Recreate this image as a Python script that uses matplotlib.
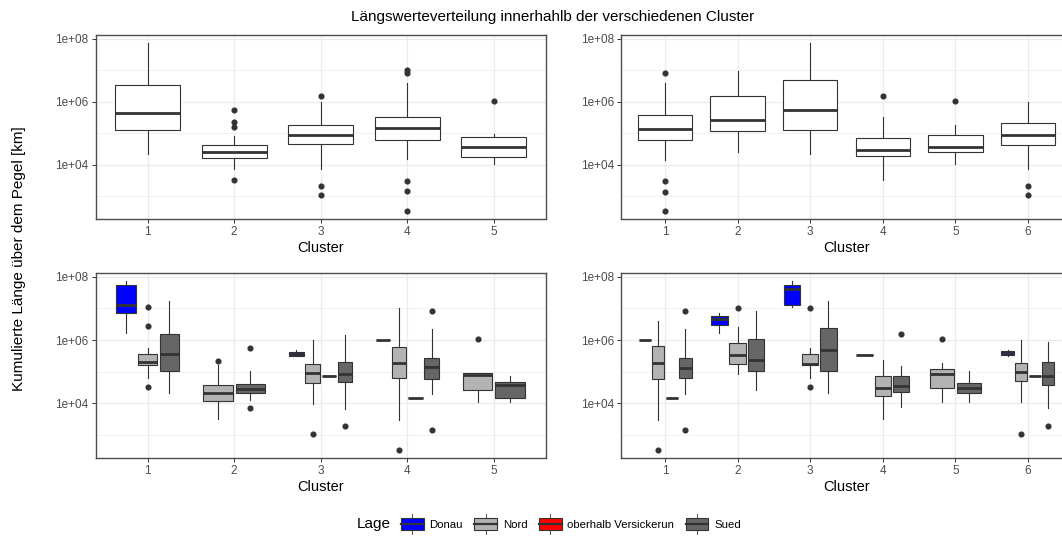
import numpy as np
import matplotlib
matplotlib.use("Agg")
import matplotlib.pyplot as plt
from matplotlib.patches import Patch, Rectangle
from matplotlib.lines import Line2D
from matplotlib.legend_handler import HandlerBase
from matplotlib.ticker import FixedLocator, NullFormatter

plt.rcParams["font.family"] = ["Liberation Sans", "DejaVu Sans"]

# Werte als log10(km)
# oben links: 5 Cluster
tl_cluster = [1, 2, 3, 4, 5]
tl_lo = [4.34, 3.88, 3.86, 4.18, 4.02]
tl_q1 = [5.11, 4.23, 4.66, 4.79, 4.26]
tl_med = [5.65, 4.41, 4.94, 5.17, 4.58]
tl_q3 = [6.52, 4.62, 5.25, 5.53, 4.87]
tl_hi = [7.86, 4.90, 6.00, 6.58, 4.97]
tl_out = [[], [5.74, 5.37, 5.20, 3.52], [6.19, 3.32, 3.04],
          [7.02, 6.92, 3.48, 3.16, 2.55], [6.04]]

# oben rechts: 6 Cluster
tr_cluster = [1, 2, 3, 4, 5, 6]
tr_lo = [4.17, 4.42, 4.34, 3.52, 4.02, 3.86]
tr_q1 = [4.79, 5.08, 5.11, 4.28, 4.40, 4.64]
tr_med = [5.15, 5.41, 5.74, 4.47, 4.56, 4.94]
tr_q3 = [5.58, 6.17, 6.69, 4.84, 4.94, 5.32]
tr_hi = [6.60, 6.99, 7.86, 5.53, 5.25, 6.00]
tr_out = [[6.92, 3.48, 3.15, 2.55], [], [], [6.19], [6.04], [3.32, 3.04]]

# unten links: 5 Cluster nach Lage
bl_cluster = [1, 1, 1, 2, 2, 3, 3, 3, 3, 4, 4, 4, 4, 5, 5]
bl_lage = ["Donau", "Nord", "Sued", "Nord", "Sued",
           "Donau", "Nord", "oberhalb Versickerun", "Sued",
           "Donau", "Nord", "oberhalb Versickerun", "Sued", "Nord", "Sued"]
bl_lo = [6.22, 4.79, 4.33, 3.50, 4.12, 5.49, 3.99, 4.85, 3.82, 6.00, 3.47, 4.17, 4.30, 4.03, 4.05]
bl_q1 = [6.84, 5.20, 5.02, 4.07, 4.34, 5.49, 4.63, 4.85, 4.67, 6.00, 4.80, 4.17, 4.78, 4.42, 4.17]
bl_med = [7.12, 5.31, 5.57, 4.33, 4.44, 5.56, 4.96, 4.85, 4.94, 6.00, 5.26, 4.17, 5.14, 4.88, 4.59]
bl_q3 = [7.74, 5.57, 6.20, 4.58, 4.61, 5.61, 5.23, 4.85, 5.31, 6.00, 5.79, 4.17, 5.44, 4.96, 4.67]
bl_hi = [7.86, 5.76, 7.24, 5.22, 5.03, 5.70, 5.99, 4.85, 6.17, 6.00, 7.02, 4.17, 6.36, 4.96, 4.85]
bl_out = [[], [7.03, 6.43, 4.51], [], [5.33], [5.75, 3.85],
          [], [3.04], [], [3.30],
          [], [2.54], [], [6.92, 3.16], [6.04], []]

# unten rechts: 6 Cluster nach Lage
br_cluster = [1, 1, 1, 1, 2, 2, 2, 3, 3, 3, 4, 4, 4, 5, 5, 6, 6, 6, 6]
br_lage = ["Donau", "Nord", "oberhalb Versickerun", "Sued",
           "Donau", "Nord", "Sued", "Donau", "Nord", "Sued",
           "Donau", "Nord", "Sued", "Nord", "Sued",
           "Donau", "Nord", "oberhalb Versickerun", "Sued"]
br_lo = [6.00, 3.48, 4.17, 4.29, 6.22, 4.94, 4.41, 7.03, 4.79, 4.33, 5.53, 3.50, 3.87, 4.03, 4.05, 5.49, 4.04, 4.85, 3.84]
br_q1 = [6.00, 4.78, 4.17, 4.80, 6.46, 5.25, 5.02, 7.11, 5.20, 5.02, 5.53, 4.23, 4.37, 4.49, 4.32, 5.53, 4.70, 4.85, 4.58]
br_med = [6.00, 5.29, 4.17, 5.12, 6.66, 5.53, 5.38, 7.61, 5.24, 5.67, 5.53, 4.48, 4.55, 4.94, 4.50, 5.60, 4.99, 4.85, 4.85]
br_q3 = [6.00, 5.82, 4.17, 5.44, 6.76, 5.92, 6.03, 7.74, 5.57, 6.38, 5.53, 4.85, 4.85, 5.09, 4.65, 5.64, 5.26, 4.85, 5.32]
br_hi = [6.00, 6.59, 4.17, 6.36, 6.86, 6.42, 6.92, 7.86, 5.76, 7.24, 5.53, 5.38, 5.19, 5.27, 5.01, 5.70, 6.00, 4.85, 5.95]
br_out = [[], [2.54], [], [6.92, 3.15],
          [], [7.02], [], [], [7.02, 4.51], [],
          [], [], [6.18], [6.04], [],
          [], [3.04], [], [3.30]]

lage_order = ["Donau", "Nord", "oberhalb Versickerun", "Sued"]
lage_colors = {"Donau": "#0000FF", "Nord": "#B3B3B3",
               "oberhalb Versickerun": "#FF0000", "Sued": "#666666"}

DARK = "#333333"
W, H = 1062, 538


def make_stats(lo, q1, med, q3, hi, out):
    stats = []
    for a, b, c, d, e, f in zip(lo, q1, med, q3, hi, out):
        stats.append(dict(whislo=10 ** a, q1=10 ** b, med=10 ** c, q3=10 ** d,
                          whishi=10 ** e, fliers=10 ** np.array(f, dtype=float)))
    return stats


def style_axis(ax, n_cluster, all_vals):
    ax.set_yscale("log")
    vmin, vmax = min(all_vals), max(all_vals)
    pad = 0.05 * (vmax - vmin)
    ax.set_ylim(10 ** (vmin - pad), 10 ** (vmax + pad))
    ax.set_xlim(0.4, n_cluster + 0.6)
    ax.set_xticks(range(1, n_cluster + 1))
    ax.set_xticklabels([str(i) for i in range(1, n_cluster + 1)])
    ax.yaxis.set_major_locator(FixedLocator([1e4, 1e6, 1e8]))
    ax.set_yticklabels(["1e+04", "1e+06", "1e+08"])
    ax.yaxis.set_minor_locator(FixedLocator([1e3, 1e5, 1e7]))
    ax.yaxis.set_minor_formatter(NullFormatter())
    ax.grid(True, which="major", color="#EBEBEB", linewidth=0.9)
    ax.grid(True, which="minor", axis="y", color="#EBEBEB", linewidth=0.5)
    ax.set_axisbelow(True)
    ax.tick_params(which="major", length=2.6, width=0.7, color=DARK,
                   labelcolor="#4D4D4D", labelsize=8.5, pad=2.5)
    ax.tick_params(which="minor", length=0)
    for sp in ax.spines.values():
        sp.set_color("#4D4D4D")
        sp.set_linewidth(1.0)
    ax.set_xlabel("Cluster", fontsize=10.5, labelpad=2)


def draw_boxes(ax, stats, positions, widths, colors):
    res = ax.bxp(stats, positions=positions, widths=widths, patch_artist=True,
                 showcaps=False, manage_ticks=False,
                 boxprops=dict(edgecolor=DARK, linewidth=0.8),
                 medianprops=dict(color=DARK, linewidth=2.0, solid_capstyle="butt"),
                 whiskerprops=dict(color=DARK, linewidth=0.8),
                 flierprops=dict(marker="o", markerfacecolor=DARK,
                                 markeredgecolor=DARK, markersize=3.4,
                                 linestyle="none"))
    for box, col in zip(res["boxes"], colors):
        box.set_facecolor(col)


def single_panel(ax, cluster, lo, q1, med, q3, hi, out):
    stats = make_stats(lo, q1, med, q3, hi, out)
    draw_boxes(ax, stats, cluster, 0.75, ["white"] * len(cluster))
    vals = lo + hi + [v for o in out for v in o]
    style_axis(ax, len(cluster), vals)


def grouped_panel(ax, cluster, lage, lo, q1, med, q3, hi, out, n_cluster):
    stats = make_stats(lo, q1, med, q3, hi, out)
    positions, widths = [], []
    for c, g in zip(cluster, lage):
        present = [x for x in lage_order
                   if any(cc == c and gg == x for cc, gg in zip(cluster, lage))]
        n = len(present)
        k = present.index(g)
        step = 0.75 / n
        positions.append(c - 0.375 + step * (k + 0.5))
        widths.append(step * 0.9)
    draw_boxes(ax, stats, positions, widths, [lage_colors[g] for g in lage])
    vals = lo + hi + [v for o in out for v in o]
    style_axis(ax, n_cluster, vals)


fig = plt.figure(figsize=(W / 100, H / 100), dpi=100)

pw = 450 / W
left1, left2 = 95.7 / W, 621.5 / W
top_b, top_h = 1 - 219 / H, 184.3 / H
bot_b, bot_h = 1 - 458 / H, 185.3 / H

ax_tl = fig.add_axes([left1, top_b, pw, top_h])
ax_tr = fig.add_axes([left2, top_b, pw, top_h])
ax_bl = fig.add_axes([left1, bot_b, pw, bot_h])
ax_br = fig.add_axes([left2, bot_b, pw, bot_h])

single_panel(ax_tl, tl_cluster, tl_lo, tl_q1, tl_med, tl_q3, tl_hi, tl_out)
single_panel(ax_tr, tr_cluster, tr_lo, tr_q1, tr_med, tr_q3, tr_hi, tr_out)
grouped_panel(ax_bl, bl_cluster, bl_lage, bl_lo, bl_q1, bl_med, bl_q3, bl_hi, bl_out, 5)
grouped_panel(ax_br, br_cluster, br_lage, br_lo, br_q1, br_med, br_q3, br_hi, br_out, 6)

fig.text(553 / W, 1 - 17 / H, "Längswerteverteilung innerhahlb der verschiedenen Cluster",
         ha="center", va="center", fontsize=11)
fig.text(19 / W, 1 - 259 / H, "Kumulierte Länge über dem Pegel [km]",
         rotation=90, ha="center", va="center", fontsize=11)


class BoxKey(HandlerBase):
    # Legendensymbol im Stil eines Boxplots, Größe am Schriftgrad ausgerichtet
    def create_artists(self, legend, orig_handle, xdescent, ydescent,
                       width, height, fontsize, trans):
        x0 = -xdescent
        yc = -ydescent + height / 2
        bh = 1.0 * fontsize
        stub = 0.35 * fontsize
        xm = x0 + width / 2
        rect = Rectangle((x0, yc - bh / 2), width, bh,
                         facecolor=orig_handle.get_facecolor(),
                         edgecolor=DARK, linewidth=0.8, transform=trans)
        med = Line2D([x0, x0 + width], [yc, yc], color=DARK,
                     linewidth=1.6, transform=trans)
        w1 = Line2D([xm, xm], [yc - bh / 2 - stub, yc - bh / 2], color=DARK,
                    linewidth=0.6, transform=trans)
        w2 = Line2D([xm, xm], [yc + bh / 2, yc + bh / 2 + stub], color=DARK,
                    linewidth=0.6, transform=trans)
        return [w1, w2, rect, med]


handles = [Patch(facecolor=lage_colors[g]) for g in lage_order]
fig.text(357 / W, 1 - 524 / H, "Lage", ha="left", va="center", fontsize=11)
fig.legend(handles, lage_order, handler_map={Patch: BoxKey()},
           loc="center left", bbox_to_anchor=(401 / W, 1 - 524 / H),
           ncol=4, frameon=False, fontsize=8.2, borderpad=0, borderaxespad=0,
           handlelength=2.0, handleheight=1.5, handletextpad=0.5,
           columnspacing=1.0)

fig.savefig("out.png", dpi=100)
